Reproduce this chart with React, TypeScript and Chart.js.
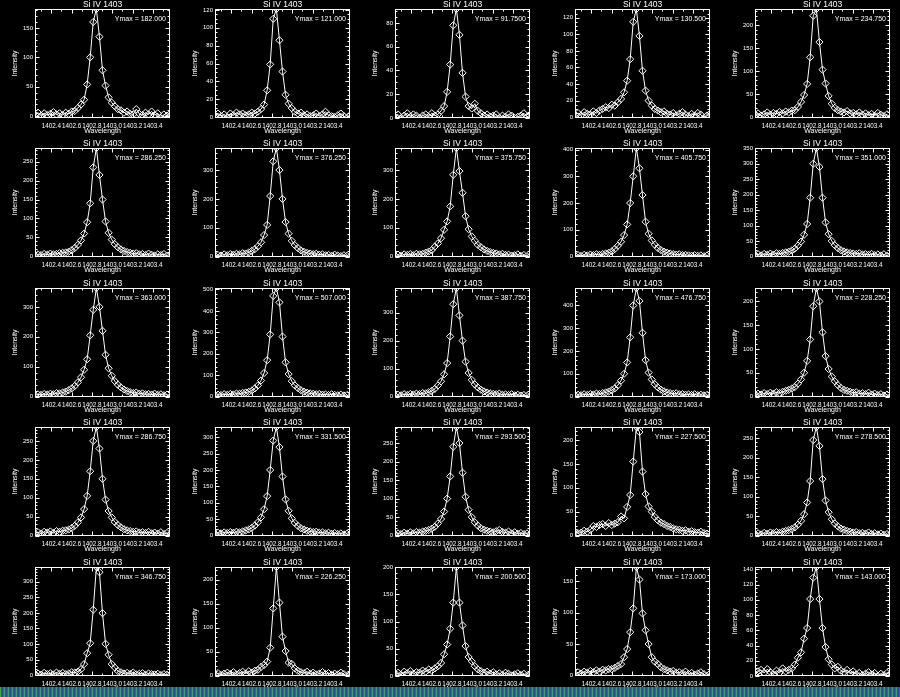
import React, { useEffect, useRef } from "react";
import { Chart, registerables } from "chart.js";

Chart.register(...registerables);

// ---------------- data ----------------
const WAVELENGTHS = [
  1402.240, 1402.270, 1402.300, 1402.330, 1402.361, 1402.391, 1402.421, 1402.451, 1402.481,
  1402.512, 1402.542, 1402.572, 1402.602, 1402.632, 1402.662, 1402.693, 1402.723, 1402.753,
  1402.783, 1402.813, 1402.844, 1402.874, 1402.904, 1402.934, 1402.964, 1402.995, 1403.025,
  1403.055, 1403.085, 1403.115, 1403.146, 1403.176, 1403.206, 1403.236, 1403.266, 1403.297,
  1403.327, 1403.357, 1403.387, 1403.417, 1403.448, 1403.478, 1403.508, 1403.538, 1403.568,
];

const PANEL_TITLE = "Si IV 1403";
const X_TITLE = "Wavelength";
const Y_TITLE = "Intensity";
const X_TICK_STEP = 0.2;

const P01 = [3,6,1,5,2,4,7,3,5,2,6,4,8,9,14,20,28,54,100,160,182,135,78,52,32,23,17,12,10,6,8,4,3,12,4,2,6,3,8,2,5,-3,3,1,4];
const P02 = [2,4,1,3,0,4,2,5,3,4,2,3,5,4,6,9,14,30,59,110,121,86,51,25,15,10,6,4,5,2,3,1,2,4,1,3,6,2,1,0,2,4,1,-1,2];
const P03 = [1,3,0,2,4,1,3,2,0,2,3,1,4,2,3,6,10,22,45,78,91.75,70,38,18,10,8,12,6,4,2,3,1,2,3,0,2,1,3,2,0,1,2,4,1,2];
const P04 = [3,5,2,6,4,3,7,5,8,10,12,11,15,14,18,22,30,44,70,115,130.5,98,56,32,20,14,10,8,6,7,4,3,5,2,4,6,3,1,4,2,5,3,-1,2,4];
const P05 = [4,8,3,6,10,5,9,7,11,8,12,10,14,15,22,33,48,72,130,220,234.75,163,103,73,46,29,20,15,12,10,13,8,9,6,10,5,8,4,7,3,9,5,2,6,-2];

const P06 = [2,5,3,6,4,7,5,6,8,9,10,12,16,22,30,42,60,90,140,235,286.25,215,150,92,62,44,32,24,18,14,11,9,7,8,5,6,3,7,4,2,5,3,6,1,-2];
const P07 = [3,6,4,8,5,9,7,10,8,12,11,15,20,26,36,50,75,110,210,330,376.25,300,200,120,80,55,40,30,22,17,13,11,9,10,7,8,5,6,3,7,4,2,5,3,-1];
const P08 = [4,7,3,8,6,9,5,10,8,10,14,18,23,35,46,64,93,122,174,283,375.75,296,221,140,95,70,55,41,33,25,20,16,13,11,8,10,6,7,4,5,8,3,6,2,-1];
const P09 = [3,5,2,6,4,7,5,8,6,9,11,14,19,28,40,55,80,120,200,300,405.75,330,230,130,85,60,44,32,24,18,14,11,9,7,8,5,6,4,3,5,2,4,1,3,-2];
const P10 = [4,7,3,8,5,9,6,10,8,11,13,15,19,25,35,48,70,105,190,300,351,290,190,110,72,50,36,27,20,16,13,11,9,8,10,6,7,5,8,4,6,3,7,2,-2];

const P11 = [5,8,6,9,7,10,8,12,11,14,17,22,28,36,48,65,90,125,205,290,363,300,220,140,95,70,52,40,31,24,19,15,12,14,10,11,8,9,7,10,6,8,5,7,-1];
const P12 = [6,9,7,11,8,12,10,14,13,17,19,22,28,38,52,75,110,170,290,470,507,440,280,160,105,72,52,40,30,23,18,15,13,11,12,9,10,7,11,8,6,9,5,7,-2];
const P13 = [4,7,5,9,6,10,8,11,9,13,12,16,21,28,40,55,80,120,215,330,387.75,290,200,125,85,60,44,33,25,19,15,12,10,9,11,7,8,6,9,5,7,4,6,3,-1];
const P14 = [5,8,6,10,7,11,9,13,11,15,18,22,28,36,50,70,100,150,260,400,476.75,420,280,160,105,75,54,40,30,23,18,15,12,14,10,11,8,9,7,10,6,8,5,7,-2];
const P15 = [3,6,4,7,5,8,6,9,7,10,12,14,17,20,27,36,50,75,120,190,228.25,200,135,85,58,42,32,24,18,14,12,10,8,9,6,7,5,8,4,6,3,5,2,4,-1];

const P16 = [6,9,5,10,8,11,7,12,10,13,14,16,20,26,35,48,70,105,170,250,286.75,230,150,95,65,48,36,28,22,17,14,12,10,11,8,9,7,10,6,8,5,9,4,7,-1];
const P17 = [5,8,6,9,7,10,8,11,9,12,15,18,23,30,40,55,80,120,200,290,331.5,270,180,110,75,52,38,29,22,18,14,12,10,11,8,9,6,8,5,7,4,6,3,5,-2];
const P18 = [3,6,4,8,5,9,6,10,8,11,13,15,19,24,33,45,65,100,160,240,293.5,250,170,105,70,50,36,27,20,16,13,11,9,12,15,10,8,11,6,9,5,7,4,6,-1];
const P19 = [8,5,6,10,8,12,20,18,22,24,20,26,22,25,28,40,36,60,85,155,227.5,217,134,87,61,50,39,32,27,24,20,18,15,13,12,10,11,8,9,7,6,8,5,4,-1];
const P20 = [4,6,3,7,5,8,6,9,7,10,12,14,17,21,28,38,55,85,140,245,278.5,230,145,90,60,42,31,24,18,15,12,10,8,9,6,7,5,8,4,6,3,5,2,4,-1];

const P21 = [3,6,2,8,4,7,3,9,5,8,4,6,10,9,12,20,36,71,103,210,346.75,330,199,101,66,36,25,14,10,6,8,4,9,3,5,7,2,6,4,3,5,1,4,2,-2];
const P22 = [2,5,1,4,6,3,7,2,5,8,4,9,6,10,12,18,22,29,58,140,226.25,152,81,51,27,24,15,10,7,5,8,3,6,2,4,7,3,5,1,4,2,6,3,-1,2];
const P23 = [3,6,2,8,5,9,4,7,6,10,8,12,10,14,18,24,40,58,87,135,200.5,135,93,55,35,27,18,12,9,6,8,4,7,3,5,2,6,4,1,3,5,2,4,0,3];
const P24 = [2,5,3,6,4,7,5,8,6,9,8,10,10,12,15,18,29,42,69,107,173,153,99,72,50,29,22,18,13,10,8,6,7,4,5,3,6,2,4,1,3,5,2,-1,3];
const P25 = [3,6,8,4,9,5,2,7,4,10,6,8,10,15,24,31,49,63,101,129,143,101,63,38,22,15,10,12,7,5,8,3,6,2,4,1,3,5,2,4,0,3,1,4,2];

const PANELS = [
  P01, P02, P03, P04, P05,
  P06, P07, P08, P09, P10,
  P11, P12, P13, P14, P15,
  P16, P17, P18, P19, P20,
  P21, P22, P23, P24, P25,
];

const Y_TICK_STEPS = [
  50, 20, 20, 20, 50,
  50, 100, 100, 100, 50,
  100, 100, 100, 100, 50,
  50, 50, 50, 50, 50,
  50, 50, 50, 50, 20,
];

// ---------------- layout constants ----------------
const COLS = 5;
const PANEL_W = 180;
const PANEL_H = 139;
const ROW_PITCH = 139.4;
const FONT = "'Liberation Sans', Arial, sans-serif";

// ticks at whole multiples of the step inside the scale range
function stepTicks(scale: any, step: number) {
  const out: { value: number }[] = [];
  const start = Math.ceil((scale.min - 1e-9) / step);
  for (let k = start; k * step <= scale.max + 1e-9; k++) {
    out.push({ value: Math.round(k * step * 1000) / 1000 });
  }
  scale.ticks = out;
}

// IDL-like frame with inward ticks on all four sides + Ymax annotation
const idlFrame = {
  id: "idlFrame",
  afterDatasetsDraw(chart: any, _args: any, opts: any) {
    const { ctx, chartArea: a, scales } = chart;
    const xs = scales.x;
    const ys = scales.y;
    const L = Math.round(a.left) + 0.5;
    const R = Math.round(a.right) - 0.5;
    const T = Math.round(a.top) + 0.5;
    const B = Math.round(a.bottom) - 0.5;
    ctx.save();
    ctx.strokeStyle = "#ffffff";
    ctx.lineWidth = 1;
    ctx.strokeRect(L, T, R - L, B - T);
    ctx.beginPath();
    const xt = (v: number, len: number) => {
      const p = Math.round(xs.getPixelForValue(v)) + 0.5;
      ctx.moveTo(p, B);
      ctx.lineTo(p, B - len);
      ctx.moveTo(p, T);
      ctx.lineTo(p, T + len);
    };
    const yt = (v: number, len: number) => {
      const p = Math.round(ys.getPixelForValue(v)) + 0.5;
      ctx.moveTo(L, p);
      ctx.lineTo(L + len, p);
      ctx.moveTo(R, p);
      ctx.lineTo(R - len, p);
    };
    const xm = opts.xStep / 2;
    for (let k = Math.ceil(xs.min / xm); k * xm <= xs.max; k++) xt(k * xm, 2);
    xs.ticks.forEach((t: any) => xt(t.value, 4));
    const ym = opts.yStep === 20 ? 5 : opts.yStep / 5;
    for (let k = Math.ceil(ys.min / ym); k * ym <= ys.max; k++) yt(k * ym, 2);
    ys.ticks.forEach((t: any) => yt(t.value, 4));
    ctx.stroke();
    ctx.fillStyle = "#ffffff";
    ctx.font = `7px ${FONT}`;
    ctx.textAlign = "right";
    ctx.textBaseline = "alphabetic";
    ctx.fillText(opts.text, a.right - 4, a.top + 12);
    ctx.restore();
  },
};

function Panel({ values, yStep, left, top }: { values: number[]; yStep: number; left: number; top: number }) {
  const ref = useRef<HTMLCanvasElement | null>(null);
  useEffect(() => {
    const ymin = Math.min(...values);
    const ymax = Math.max(...values);
    const chart = new Chart(ref.current as HTMLCanvasElement, {
      type: "line",
      data: {
        datasets: [
          {
            data: WAVELENGTHS.map((x, i) => ({ x, y: values[i] })),
            borderColor: "#ffffff",
            borderWidth: 1,
            pointStyle: "rectRot",
            pointRadius: 3.6,
            pointBorderColor: "#ffffff",
            pointBackgroundColor: "rgba(0,0,0,0)",
            pointBorderWidth: 1,
            tension: 0,
          },
        ],
      },
      options: {
        responsive: false,
        animation: false,
        events: [],
        layout: { padding: { left: 0, right: 10, top: 0, bottom: 0 } },
        plugins: {
          legend: { display: false },
          tooltip: { enabled: false },
          title: {
            display: true,
            text: PANEL_TITLE,
            color: "#ffffff",
            fullSize: false,
            font: { family: FONT, size: 8.5, lineHeight: 1, weight: "normal" },
            padding: { top: 0.5, bottom: 0 },
          },
          idlFrame: { xStep: X_TICK_STEP, yStep, text: "Ymax = " + ymax.toPrecision(6) },
        } as any,
        scales: {
          x: {
            type: "linear",
            min: WAVELENGTHS[0],
            max: WAVELENGTHS[WAVELENGTHS.length - 1],
            grid: { display: false, drawTicks: false },
            border: { display: false },
            afterBuildTicks: (s: any) => stepTicks(s, X_TICK_STEP),
            ticks: {
              autoSkip: false,
              maxRotation: 0,
              minRotation: 0,
              color: "#ffffff",
              padding: 4,
              font: { family: FONT, size: 6.3 },
              callback: (v: any) => Number(v).toFixed(1),
            },
            title: {
              display: true,
              text: X_TITLE,
              color: "#ffffff",
              font: { family: FONT, size: 7 },
              padding: { top: 0, bottom: 3.5 },
            },
            afterFit: (s: any) => {
              s.height = 21;
            },
          },
          y: {
            type: "linear",
            min: ymin,
            max: ymax,
            grid: { display: false, drawTicks: false },
            border: { display: false },
            afterBuildTicks: (s: any) => stepTicks(s, yStep),
            ticks: {
              autoSkip: false,
              color: "#ffffff",
              padding: 2,
              font: { family: FONT, size: 6 },
              callback: (v: any) => String(v),
            },
            title: {
              display: true,
              text: Y_TITLE,
              color: "#ffffff",
              font: { family: FONT, size: 7 },
              padding: { top: 11, bottom: 0 },
            },
            afterFit: (s: any) => {
              s.width = 35;
            },
          },
        },
      } as any,
      plugins: [idlFrame as any],
    });
    return () => chart.destroy();
  }, [values, yStep]);
  return (
    <canvas
      ref={ref}
      width={PANEL_W}
      height={PANEL_H}
      style={{ position: "absolute", left, top, width: PANEL_W, height: PANEL_H }}
    />
  );
}

export default function App() {
  return (
    <div
      style={{
        position: "fixed",
        left: 0,
        top: 0,
        width: 900,
        height: 697,
        background: "#000000",
        overflow: "hidden",
      }}
    >
      {PANELS.map((vals, i) => (
        <Panel
          key={i}
          values={vals}
          yStep={Y_TICK_STEPS[i]}
          left={(i % COLS) * PANEL_W}
          top={Math.round(Math.floor(i / COLS) * ROW_PITCH)}
        />
      ))}
      <div
        style={{
          position: "absolute",
          left: 0,
          top: 687,
          width: 900,
          height: 10,
          background:
            "repeating-linear-gradient(90deg, #30b030 0px, #30b030 1px, #1a7a1a 1px, #1a7a1a 2px, #3a3ad0 2px, #3a3ad0 3px, #c03030 3px, #c03030 4px)",
        }}
      />
    </div>
  );
}
